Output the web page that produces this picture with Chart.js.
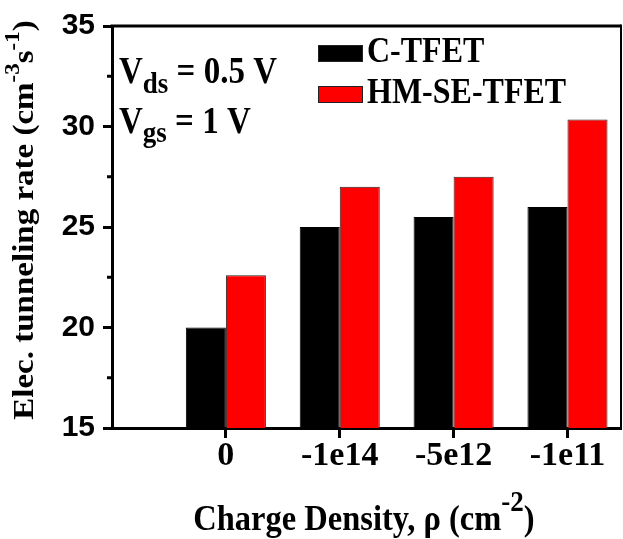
<!DOCTYPE html>
<html><head><meta charset="utf-8">
<script src="https://cdn.jsdelivr.net/npm/chart.js@4"></script>
<style>html,body{margin:0;padding:0;background:#fff}</style>
</head><body>
<canvas id="c" width="623" height="539"></canvas>
<script>
const categories = ['0', '-1e14', '-5e12', '-1e11'];
const seriesNames = ['C-TFET', 'HM-SE-TFET'];
const cTfet = [20, 25, 25.5, 26];
const hmSeTfet = [22.6, 27, 27.5, 30.35];
const yMajorTicks = [15, 20, 25, 30, 35];
const yMinorTicks = [17.5, 22.5, 27.5, 32.5];

const SERIF = '"Liberation Serif", "Times New Roman", serif';
const SANS = '"Liberation Sans", Arial, sans-serif';

function toPoints(vals) { return vals.map((v, i) => ({ x: i, y: v })); }

// draws a sequence of text runs on one baseline, stretched vertically by k
function drawRuns(ctx, runs, x, y, align, k) {
  k = k || 1;
  let total = 0;
  runs.forEach(r => { ctx.font = 'bold ' + r.size + 'px ' + SERIF; r.w = ctx.measureText(r.t).width; total += r.w; });
  let cx = align === 'center' ? x - total / 2 : x;
  ctx.save();
  ctx.translate(0, y);
  ctx.scale(1, k);
  runs.forEach(r => {
    ctx.font = 'bold ' + r.size + 'px ' + SERIF;
    ctx.fillText(r.t, cx, (r.dy || 0) / k);
    cx += r.w;
  });
  ctx.restore();
}

const decorPlugin = {
  id: 'decor',
  afterDraw(chart) {
    const { ctx, chartArea: a, scales: { y } } = chart;
    ctx.save();
    ctx.strokeStyle = '#000';
    ctx.lineWidth = 3;
    ctx.beginPath(); ctx.moveTo(a.left - 1.5, a.top); ctx.lineTo(a.right, a.top); ctx.stroke();
    ctx.lineWidth = 2;
    ctx.beginPath(); ctx.moveTo(a.right, a.top - 1.5); ctx.lineTo(a.right, a.bottom); ctx.stroke();
    ctx.lineWidth = 3;
    yMinorTicks.forEach(v => {
      const py = y.getPixelForValue(v);
      ctx.beginPath(); ctx.moveTo(a.left - 5, py); ctx.lineTo(a.left, py); ctx.stroke();
    });

    ctx.fillStyle = '#000';
    ctx.textBaseline = 'alphabetic';
    ctx.textAlign = 'left';
    // legend
    const ds = chart.data.datasets;
    const legendY = [45, 86];
    ds.forEach((d, i) => {
      ctx.fillStyle = d.backgroundColor;
      ctx.fillRect(318, legendY[i], 45, 17);
      ctx.lineWidth = 1;
      ctx.strokeStyle = '#222';
      ctx.strokeRect(318.5, legendY[i] + 0.5, 44, 16);
      ctx.fillStyle = '#000';
      drawRuns(ctx, [{ t: d.label, size: 32 }], 367, legendY[i] + 17, 'left', 1.12);
    });

    // annotations
    drawRuns(ctx, [{ t: 'V', size: 33 }, { t: 'ds', size: 27, dy: 10 }, { t: ' = 0.5 V', size: 33 }], 119, 83, 'left', 1.12);
    drawRuns(ctx, [{ t: 'V', size: 33 }, { t: 'gs', size: 27, dy: 9 }, { t: ' = 1 V', size: 33 }], 119, 133, 'left', 1.12);

    // x title
    drawRuns(ctx, [{ t: 'Charge Density, \u03C1 (cm', size: 32.5 }, { t: '-2', size: 27, dy: -19 }, { t: ')', size: 32.5 }], 364, 530, 'center', 1.12);

    // y title
    ctx.save();
    ctx.translate(33, 220);
    ctx.rotate(-Math.PI / 2);
    drawRuns(ctx, [{ t: 'Elec. tunneling rate (cm', size: 33 }, { t: '-3', size: 23, dy: -14 }, { t: 's', size: 33 }, { t: '-1', size: 23, dy: -14 }, { t: ')', size: 33 }], 0, 0, 'center', 0.92);
    ctx.restore();
    ctx.restore();
  }
};

new Chart(document.getElementById('c'), {
  type: 'bar',
  data: {
    datasets: [
      { label: seriesNames[0], data: toPoints(cTfet), backgroundColor: '#000000', borderColor: '#000000', borderWidth: 1 },
      { label: seriesNames[1], data: toPoints(hmSeTfet), backgroundColor: '#ff0000', borderColor: '#222222', borderWidth: 1 }
    ]
  },
  options: {
    responsive: false,
    animation: false,
    layout: { padding: { top: 22, right: 2, left: 0, bottom: 0 } },
    plugins: { legend: { display: false }, tooltip: { enabled: false } },
    datasets: { bar: { categoryPercentage: 0.703, barPercentage: 1.0 } },
    scales: {
      x: {
        type: 'linear',
        min: -1, max: 3.47,
        offset: false,
        afterFit(s) { s.height = 111; },
        afterBuildTicks(s) { s.ticks = categories.map((c, i) => ({ value: i })); },
        grid: { offset: false, drawOnChartArea: false, drawTicks: true, tickLength: 10, tickWidth: 3, tickColor: '#000' },
        border: { display: true, width: 3, color: '#000' },
        ticks: {
          color: '#000', padding: 1,
          font: { family: SERIF, size: 34, weight: 'bold', lineHeight: 1 },
          callback: (v) => categories[v] !== undefined ? categories[v] : ''
        }
      },
      y: {
        min: 15, max: 35,
        beginAtZero: false,
        afterFit(s) { s.width = 112; },
        afterBuildTicks(s) { s.ticks = yMajorTicks.map(v => ({ value: v })); },
        grid: { drawOnChartArea: false, drawTicks: true, tickLength: 9, tickWidth: 3, tickColor: '#000' },
        border: { display: true, width: 3, color: '#000' },
        ticks: {
          color: '#000', padding: 8,
          font: { family: SANS, size: 30, weight: 'bold' }
        }
      }
    }
  },
  plugins: [decorPlugin]
});
</script>
</body></html>
